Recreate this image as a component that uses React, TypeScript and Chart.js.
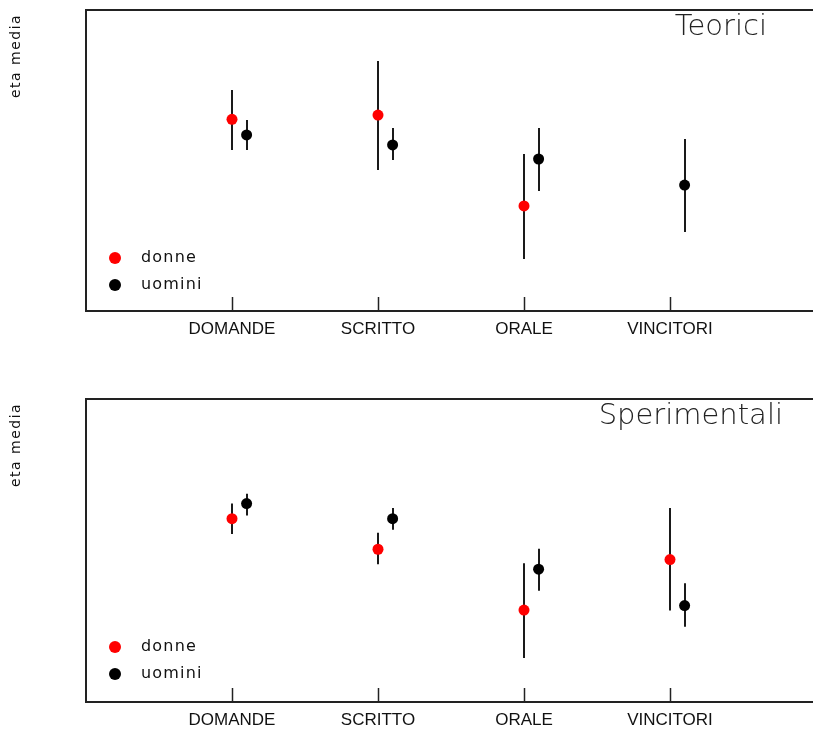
import React, { useEffect, useRef } from 'react';
import { Chart, registerables } from 'chart.js';
Chart.register(...registerables);

const categories = ['DOMANDE', 'SCRITTO', 'ORALE', 'VINCITORI'];
const seriesNames = ['donne', 'uomini'];
const seriesColors = ['#ff0000', '#000000'];
const yAxisLabel = 'eta media';

const teoriciDonneMean = [35.64, 35.81, 32.19, null];
const teoriciDonneLow = [34.42, 33.62, 30.07, null];
const teoriciDonneHigh = [36.81, 37.97, 34.26, null];
const teoriciUominiMean = [35.02, 34.62, 34.06, 33.02];
const teoriciUominiLow = [34.42, 34.02, 32.78, 31.15];
const teoriciUominiHigh = [35.61, 35.3, 35.3, 34.86];

const sperDonneMean = [35.26, 34.05, 31.64, 33.64];
const sperDonneLow = [34.65, 33.46, 29.74, 31.62];
const sperDonneHigh = [35.86, 34.7, 33.5, 35.68];
const sperUominiMean = [35.86, 35.26, 33.26, 31.82];
const sperUominiLow = [35.39, 34.82, 32.41, 30.98];
const sperUominiHigh = [36.25, 35.68, 34.07, 32.7];

const yMin = 28;
const yMax = 40;
const uominiOffset = 0.1;

type Pt = { x: number; y: number; lo: number; hi: number };

function buildPoints(mean: (number | null)[], lo: (number | null)[], hi: (number | null)[], offset: number): Pt[] {
  const out: Pt[] = [];
  categories.forEach((_, i) => {
    const m = mean[i];
    if (m == null) return;
    out.push({ x: i + 1 + offset, y: m, lo: lo[i] as number, hi: hi[i] as number });
  });
  return out;
}

const INK = '#1a1a1a';

function makeFramePlugin(title: string, titleRight: number, legendOffset: number) {
  return {
    id: 'frame',
    beforeDatasetsDraw(chart: any) {
      const { ctx, scales } = chart;
      const x = scales.x, y = scales.y;
      ctx.save();
      ctx.strokeStyle = INK;
      ctx.lineWidth = 2;
      chart.data.datasets.forEach((ds: any) => {
        ds.data.forEach((p: Pt) => {
          const px = Math.round(x.getPixelForValue(p.x));
          ctx.beginPath();
          ctx.moveTo(px, y.getPixelForValue(p.lo));
          ctx.lineTo(px, y.getPixelForValue(p.hi));
          ctx.stroke();
        });
      });
      ctx.restore();
    },
    afterDraw(chart: any) {
      const { ctx, chartArea: a, scales } = chart;
      const x = scales.x;
      ctx.save();
      // box
      ctx.strokeStyle = '#222';
      ctx.lineWidth = 2;
      ctx.strokeRect(a.left, a.top, a.right - a.left, a.bottom - a.top);
      // inner ticks
      ctx.lineWidth = 1.5;
      categories.forEach((_, i) => {
        const px = Math.round(x.getPixelForValue(i + 1)) + 0.5;
        ctx.beginPath();
        ctx.moveTo(px, a.bottom);
        ctx.lineTo(px, a.bottom - 14);
        ctx.stroke();
      });
      // y label
      ctx.fillStyle = '#111';
      ctx.font = '14px "DejaVu Sans"';
      (ctx as any).letterSpacing = '1.5px';
      ctx.translate(20, a.top + 46);
      ctx.rotate(-Math.PI / 2);
      ctx.textAlign = 'center';
      ctx.textBaseline = 'alphabetic';
      ctx.fillText(yAxisLabel, 0, 0);
      ctx.setTransform(1, 0, 0, 1, 0, 0);
      // title
      (ctx as any).letterSpacing = '0px';
      ctx.font = '200 29px "DejaVu Sans"';
      ctx.fillStyle = '#222';
      ctx.textAlign = 'right';
      ctx.fillText(title, a.left + titleRight, a.top + 25);
      // legend
      ctx.font = '16px "DejaVu Sans"';
      (ctx as any).letterSpacing = '1.2px';
      ctx.textAlign = 'left';
      ctx.textBaseline = 'middle';
      seriesNames.forEach((name, i) => {
        const cy = a.bottom - legendOffset + i * 27;
        ctx.fillStyle = seriesColors[i];
        ctx.beginPath();
        ctx.arc(a.left + 29, cy, 6, 0, Math.PI * 2);
        ctx.fill();
        ctx.fillStyle = '#111';
        ctx.fillText(name, a.left + 55, cy);
      });
      ctx.restore();
    },
  };
}

type PanelProps = {
  title: string;
  titleRight: number;
  legendOffset: number;
  donne: Pt[];
  uomini: Pt[];
  top: number;
  height: number;
};

function Panel({ title, titleRight, legendOffset, donne, uomini, top, height }: PanelProps) {
  const ref = useRef<HTMLCanvasElement | null>(null);
  useEffect(() => {
    if (!ref.current) return;
    const chart = new Chart(ref.current, {
      type: 'scatter',
      data: {
        datasets: [
          { label: seriesNames[0], data: donne as any, backgroundColor: seriesColors[0], borderColor: seriesColors[0], pointRadius: 5.5, pointHoverRadius: 5.5, borderWidth: 0 },
          { label: seriesNames[1], data: uomini as any, backgroundColor: seriesColors[1], borderColor: seriesColors[1], pointRadius: 5.5, pointHoverRadius: 5.5, borderWidth: 0 },
        ],
      },
      options: {
        responsive: false,
        animation: false,
        devicePixelRatio: 1,
        layout: { padding: { left: 86, right: 14, top: 10, bottom: 0 } },
        plugins: { legend: { display: false }, tooltip: { enabled: false }, title: { display: false } },
        scales: {
          x: {
            type: 'linear',
            min: 0,
            max: 5,
            grid: { display: false },
            border: { display: false },
            afterBuildTicks: (s: any) => {
              s.ticks = categories.map((_, i) => ({ value: i + 1 }));
            },
            afterFit: (s: any) => {
              s.height = 34;
            },
            ticks: {
              autoSkip: false,
              maxRotation: 0,
              padding: 0,
              color: '#111',
              font: { family: '"Liberation Sans"', size: 17 },
              callback: (v: any) => categories[Number(v) - 1] ?? '',
            },
          },
          y: { type: 'linear', min: yMin, max: yMax, display: false },
        },
      },
      plugins: [makeFramePlugin(title, titleRight, legendOffset)],
    });
    return () => chart.destroy();
  }, []);
  return (
    <canvas
      ref={ref}
      width={830}
      height={height}
      style={{ position: 'absolute', left: 0, top, width: 830, height }}
    />
  );
}

export default function App() {
  const tD = buildPoints(teoriciDonneMean, teoriciDonneLow, teoriciDonneHigh, 0);
  const tU = buildPoints(teoriciUominiMean, teoriciUominiLow, teoriciUominiHigh, uominiOffset);
  const sD = buildPoints(sperDonneMean, sperDonneLow, sperDonneHigh, 0);
  const sU = buildPoints(sperUominiMean, sperUominiLow, sperUominiHigh, uominiOffset);
  return (
    <div style={{ position: 'fixed', left: 0, top: 0, width: 813, height: 729, overflow: 'hidden', background: '#fff' }}>
      <Panel title="Teorici" titleRight={681} legendOffset={53} donne={tD} uomini={tU} top={0} height={345} />
      <Panel title="Sperimentali" titleRight={697} legendOffset={55} donne={sD} uomini={sU} top={389} height={347} />
    </div>
  );
}
